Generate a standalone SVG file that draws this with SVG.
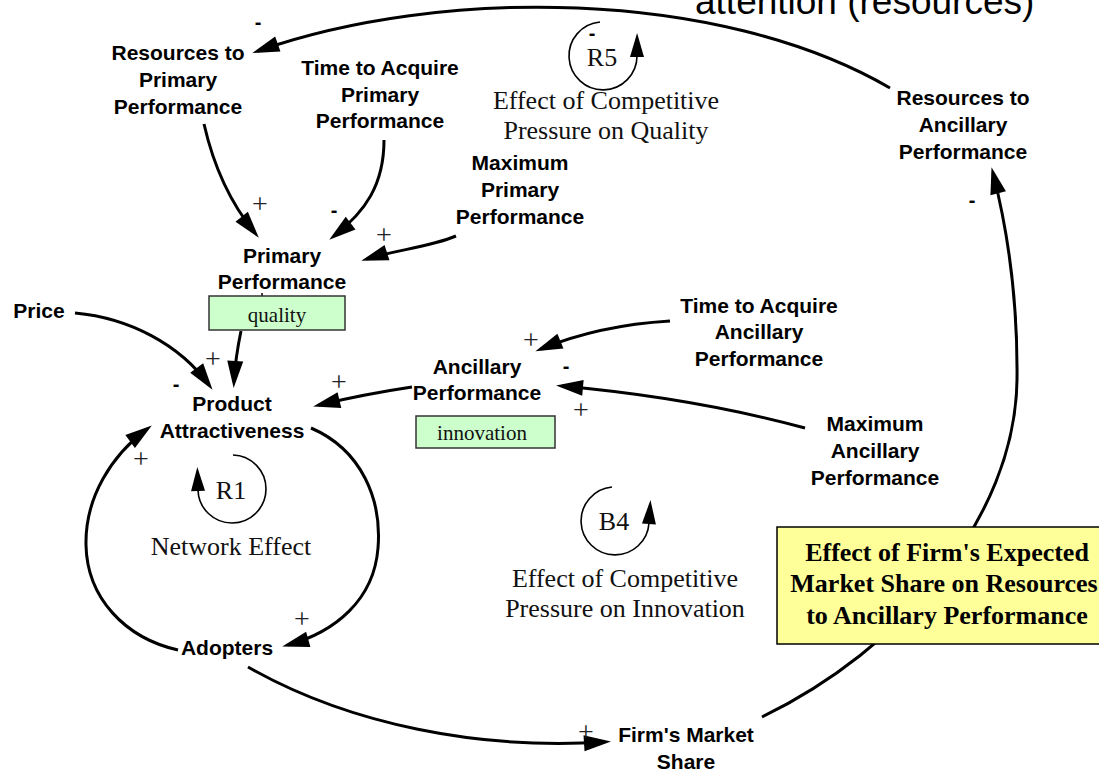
<svg xmlns="http://www.w3.org/2000/svg" width="1099" height="771" viewBox="0 0 1099 771">
<style>
.n{font-family:"Liberation Sans",Arial,sans-serif;font-weight:bold;font-size:21px;fill:#000;text-anchor:middle}
.lp{font-family:"Liberation Serif","Times New Roman",serif;font-size:26px;fill:#111;text-anchor:middle}
.bx{font-family:"Liberation Serif","Times New Roman",serif;font-size:21px;fill:#111;text-anchor:middle}
.pl{font-family:"Liberation Serif","Times New Roman",serif;font-size:28px;fill:#222;text-anchor:middle}
.mi{font-family:"Liberation Sans",Arial,sans-serif;font-weight:bold;font-size:20px;fill:#000;text-anchor:middle}
.c{fill:none;stroke:#000;stroke-width:3;marker-end:url(#ah)}
.lo{fill:none;stroke:#000;stroke-width:1.6;marker-end:url(#la)}
</style>
<defs>
<marker id="ah" markerUnits="userSpaceOnUse" markerWidth="27" markerHeight="16" refX="21" refY="8" orient="auto" overflow="visible">
<path d="M0,0 L27,8 L0,16 z" fill="#000"/>
</marker>
<marker id="la" markerUnits="userSpaceOnUse" markerWidth="24" markerHeight="14" refX="1" refY="7" orient="auto" overflow="visible">
<path d="M0,0 L24,7 L0,14 z" fill="#000"/>
</marker>
</defs>
<rect width="1099" height="771" fill="#fff"/>

<text x="695" y="14" style="font-family:'Liberation Sans',Arial,sans-serif;font-size:37px;fill:#000">attention (resources)</text>

<g id="connectors">
<path class="c" d="M890,88 C718,-12 440,-13 258,51"/>
<path class="c" d="M204,124 C214,168 232,205 255,233"/>
<path class="c" d="M384,140 C384,185 365,212 334,236"/>
<path class="c" d="M456,236 C430,247 395,250 367,259"/>
<path class="c" d="M75,313 C130,318 180,345 209,385"/>
<path class="c" d="M241,331 C237,350 235,365 234,382"/>
<path class="c" d="M412,387 Q365,394 319,405"/>
<path class="c" d="M670,321 C620,324 580,333 541,349"/>
<path class="c" d="M805,428 C720,405 640,393 562,386"/>
<path class="c" d="M311,428 C362,450 382,500 378,548 C374,600 335,632 288,645"/>
<path class="c" d="M178,650 C125,638 87,598 86,545 C85,497 112,455 147,429"/>
<path class="c" d="M248,667 C350,725 480,750 605,742"/>
<path class="c" d="M762,717 C900,650 1015,520 1017,380 C1018,290 1005,220 993,173"/>
<line x1="262" y1="293" x2="262" y2="297" stroke="#000" stroke-width="1.5"/>
<g id="polarities">
<text class="mi" x="258" y="29">-</text>
<text class="pl" x="260" y="213">+</text>
<text class="mi" x="334" y="217">-</text>
<text class="pl" x="384" y="244">+</text>
<text class="pl" x="213" y="368">+</text>
<text class="mi" x="176" y="391">-</text>
<text class="pl" x="339" y="391">+</text>
<text class="pl" x="531" y="349">+</text>
<text class="mi" x="566" y="373">-</text>
<text class="pl" x="581" y="419">+</text>
<text class="pl" x="141" y="468">+</text>
<text class="pl" x="302" y="628">+</text>
<text class="pl" x="586" y="741">+</text>
<text class="mi" x="972" y="207">-</text>
</g>
</g>

<g id="loop-R5">
<path class="lo" d="M600,22 A34,34 0 1 0 637,56"/>
<text class="mi" x="592" y="40">-</text>
<text class="lp" x="602" y="66">R5</text>
<text class="lp" x="606" y="109">Effect of Competitive</text>
<text class="lp" x="606" y="139">Pressure on Quality</text>
</g>
<g id="loop-R1">
<path class="lo" d="M233,455 A34,34 0 1 1 198,490"/>
<text class="lp" x="231" y="499">R1</text>
<text class="lp" x="231" y="555">Network Effect</text>
</g>
<g id="loop-B4">
<path class="lo" d="M612,487 A34,34 0 1 0 649,523"/>
<text class="lp" x="614" y="530">B4</text>
<text class="lp" x="625" y="587">Effect of Competitive</text>
<text class="lp" x="625" y="617">Pressure on Innovation</text>
</g>

<g id="resources-primary"><text class="n" x="178" y="60">Resources to</text><text class="n" x="178" y="87">Primary</text><text class="n" x="178" y="114">Performance</text></g>
<g id="time-primary"><text class="n" x="380" y="75">Time to Acquire</text><text class="n" x="380" y="102">Primary</text><text class="n" x="380" y="128">Performance</text></g>
<g id="max-primary"><text class="n" x="520" y="170">Maximum</text><text class="n" x="520" y="197">Primary</text><text class="n" x="520" y="224">Performance</text></g>
<g id="resources-ancillary"><text class="n" x="963" y="105">Resources to</text><text class="n" x="963" y="132">Ancillary</text><text class="n" x="963" y="159">Performance</text></g>
<g id="primary-performance"><text class="n" x="282" y="263">Primary</text><text class="n" x="282" y="289">Performance</text></g>
<g id="quality"><rect x="209" y="296" width="136" height="34" fill="#ccffcc" stroke="#333" stroke-width="1.5"/><text class="bx" x="277" y="322">quality</text></g>
<g id="price"><text class="n" x="39" y="318">Price</text></g>
<g id="product-attractiveness"><text class="n" x="232" y="411">Product</text><text class="n" x="232" y="438">Attractiveness</text></g>
<g id="time-ancillary"><text class="n" x="759" y="313">Time to Acquire</text><text class="n" x="759" y="339">Ancillary</text><text class="n" x="759" y="366">Performance</text></g>
<g id="ancillary-performance"><text class="n" x="477" y="374">Ancillary</text><text class="n" x="477" y="400">Performance</text></g>
<g id="innovation"><rect x="416" y="416" width="139" height="32" fill="#ccffcc" stroke="#333" stroke-width="1.5"/><text class="bx" x="482" y="440">innovation</text></g>
<g id="max-ancillary"><text class="n" x="875" y="431">Maximum</text><text class="n" x="875" y="458">Ancillary</text><text class="n" x="875" y="485">Performance</text></g>
<g id="adopters"><text class="n" x="227" y="655">Adopters</text></g>
<g id="market-share"><text class="n" x="686" y="742">Firm's Market</text><text class="n" x="686" y="769">Share</text></g>
<g id="effect-box">
<rect x="777" y="527" width="330" height="117" fill="#ffff99" stroke="#000" stroke-width="1.5"/>
<g style="font-family:'Liberation Serif','Times New Roman',serif;font-weight:bold;font-size:26px;fill:#000;text-anchor:middle">
<text x="947" y="561">Effect of Firm's Expected</text>
<text x="944" y="592">Market Share on Resources</text>
<text x="947" y="624">to Ancillary Performance</text>
</g>
</g>
</svg>
